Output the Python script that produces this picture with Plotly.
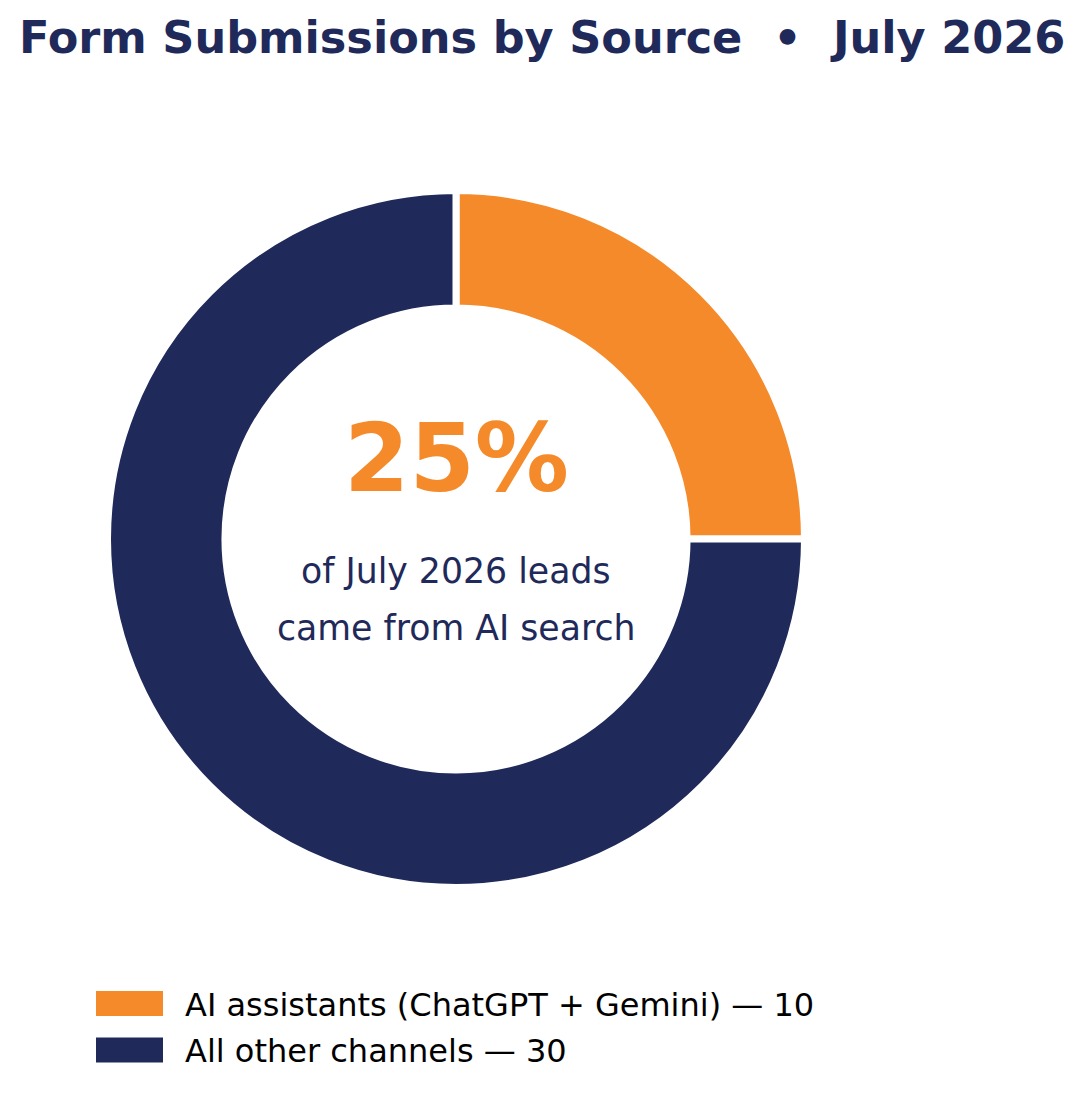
import plotly.graph_objects as go

W, H = 1084, 1101
PAGE_OFFSET = 8  # browser body margin around the plot div

labels = ["AI assistants (ChatGPT + Gemini)", "All other channels"]
values = [10, 30]
colors = ["#F58A2B", "#1F2A5A"]
month = "July 2026"

NAVY = "#1F2A5A"
ORANGE = "#F58A2B"
FONT = "DejaVu Sans"
EDGE = 7


def px_x(x):
    return (x - PAGE_OFFSET) / W


def px_y(y):
    return 1 - (y - PAGE_OFFSET) / H


share = values[0] / sum(values) * 100

fig = go.Figure(go.Pie(
    labels=labels,
    values=values,
    hole=0.663,
    sort=False,
    direction="clockwise",
    rotation=0,
    textinfo="none",
    hoverinfo="label+value",
    marker=dict(colors=colors, line=dict(color="white", width=EDGE)),
    domain=dict(x=[px_x(111 - EDGE / 2), px_x(801 + EDGE / 2)],
                y=[px_y(884 + EDGE / 2), px_y(194 - EDGE / 2)]),
    showlegend=False,
))

annotations = [
    dict(text=f"<b>Form Submissions by Source\u00a0\u00a0•\u00a0\u00a0{month}</b>",
         x=px_x(542), y=px_y(38), font=dict(size=44.6, color=NAVY)),
    dict(text=f"<b>{share:.0f}%</b>",
         x=px_x(456), y=px_y(459), font=dict(size=94, color=ORANGE)),
    dict(text=f"of {month} leads",
         x=px_x(456), y=px_y(571), font=dict(size=34.7, color=NAVY)),
    dict(text="came from AI search",
         x=px_x(456), y=px_y(628), font=dict(size=34.7, color=NAVY)),
]

shapes = []
legend_rows = [1003.5, 1050]
for lab, val, col, yc in zip(labels, values, colors, legend_rows):
    shapes.append(dict(type="rect", xref="paper", yref="paper",
                       x0=px_x(96), x1=px_x(163),
                       y0=px_y(yc + 12.5), y1=px_y(yc - 12.5),
                       fillcolor=col, line=dict(width=0)))
    annotations.append(dict(text=f"{lab} — {val}", x=px_x(183), y=px_y(yc + 1),
                            xanchor="left", font=dict(size=32, color="black")))

for a in annotations:
    a.setdefault("xref", "paper")
    a.setdefault("yref", "paper")
    a.setdefault("showarrow", False)
    a.setdefault("yanchor", "middle")
    a.setdefault("xanchor", "center")

fig.update_layout(
    width=W, height=H,
    margin=dict(l=0, r=0, t=0, b=0),
    paper_bgcolor="white",
    plot_bgcolor="white",
    font=dict(family=FONT),
    annotations=annotations,
    shapes=shapes,
)

fig.write_html("out.html")
